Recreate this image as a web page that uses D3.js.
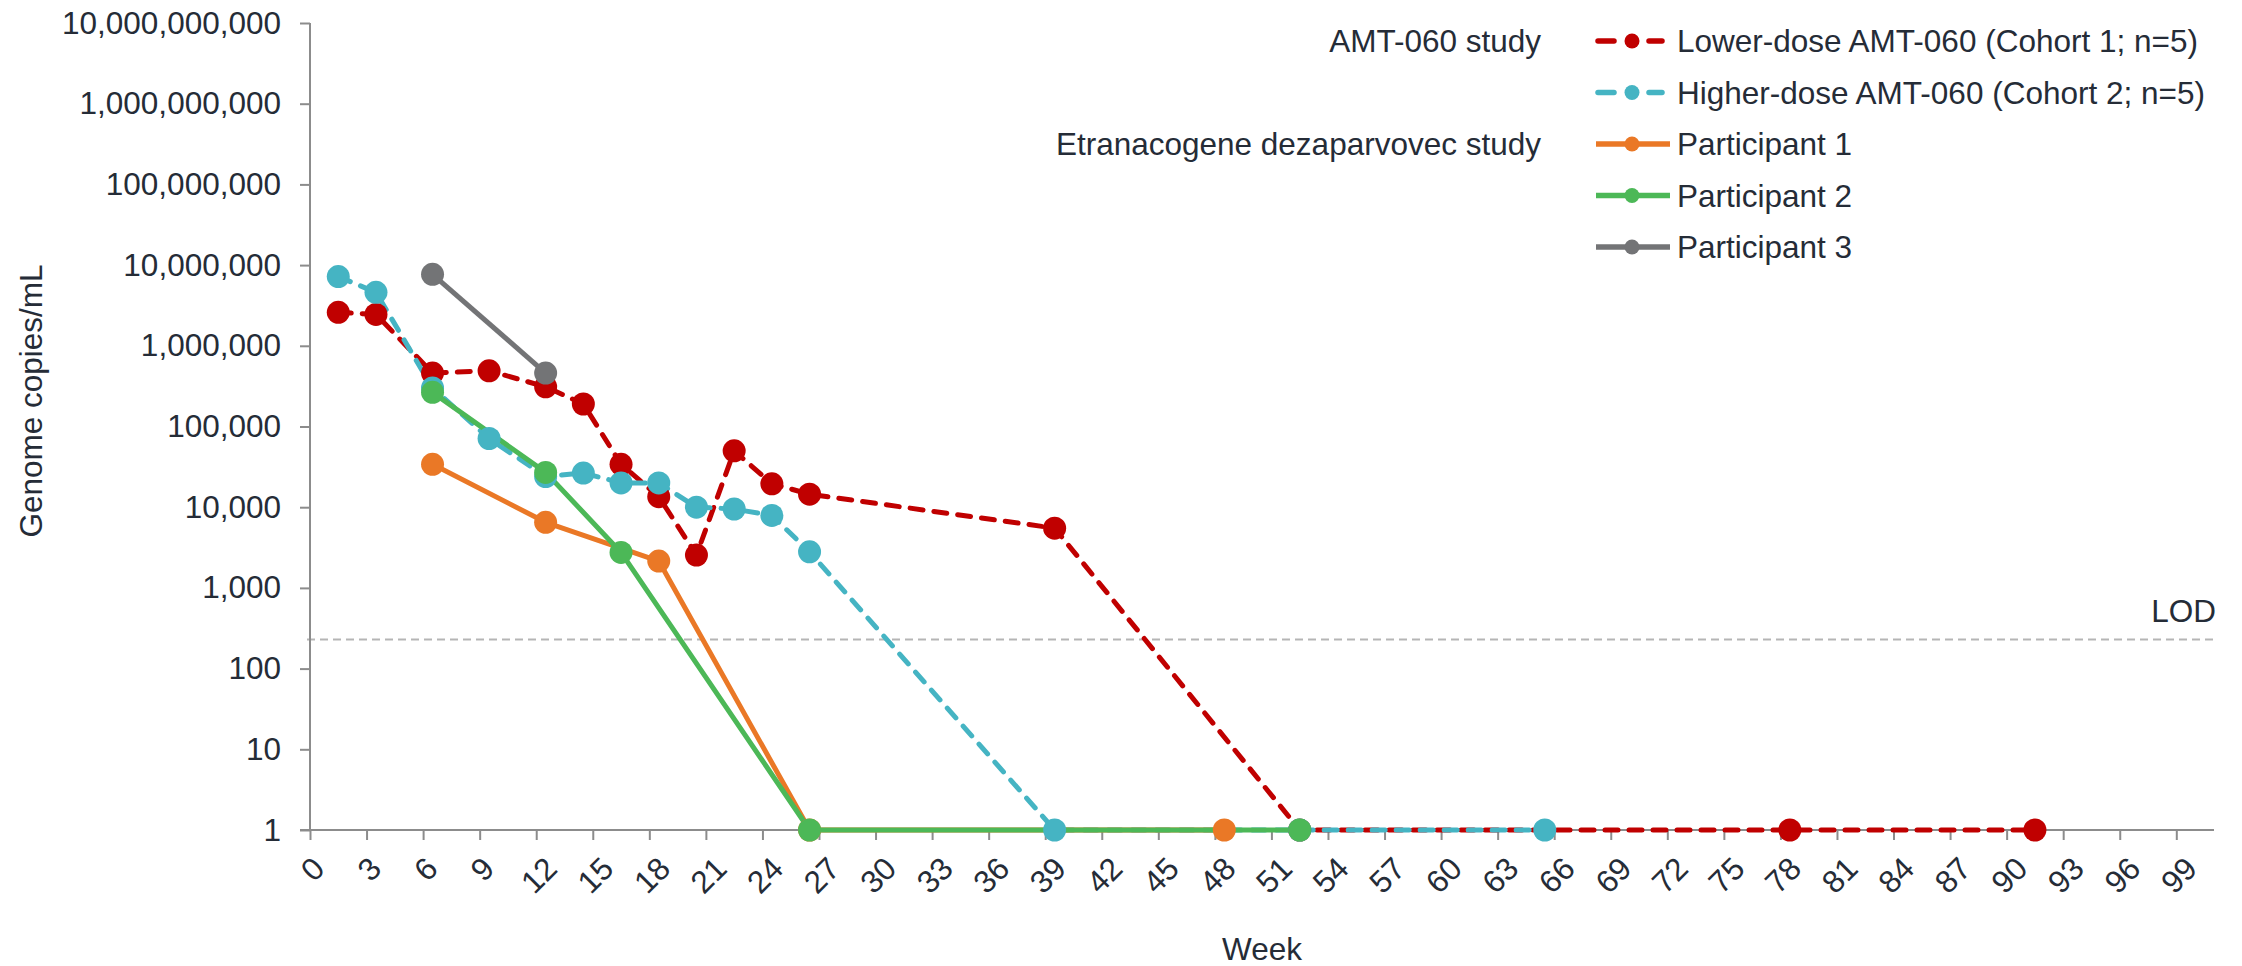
<!DOCTYPE html>
<html><head><meta charset="utf-8">
<script src="https://cdn.jsdelivr.net/npm/d3@7"></script>
<style>
html,body{margin:0;padding:0;background:#fff}
svg{display:block}
text{font-family:"Liberation Sans",Arial,Helvetica,sans-serif;fill:#252c37}
</style>
</head><body>
<svg id="chart" width="2242" height="966"></svg>
<script>
// ---- data ----
const yTickValues = [1, 10, 100, 1e3, 1e4, 1e5, 1e6, 1e7, 1e8, 1e9, 1e10];
const xTickValues = d3.range(0, 100, 3);
const lodValue = 230;

const lowerWeeks  = [1.5, 3.5, 6.5, 9.5, 12.5, 14.5, 16.5, 18.5, 20.5, 22.5, 24.5, 26.5, 39.5, 52.5, 78.5, 91.5];
const lowerValues = [2.6e6, 2.45e6, 4.6e5, 4.9e5, 3.1e5, 1.9e5, 3.4e4, 1.35e4, 2.55e3, 5.0e4, 1.95e4, 1.45e4, 5.5e3, 1, 1, 1];

const higherWeeks  = [1.5, 3.5, 6.5, 9.5, 12.5, 14.5, 16.5, 18.5, 20.5, 22.5, 24.5, 26.5, 39.5, 52.5, 65.5];
const higherValues = [7.2e6, 4.6e6, 3.0e5, 7.1e4, 2.4e4, 2.65e4, 2.0e4, 2.0e4, 1.0e4, 9.5e3, 7.9e3, 2.8e3, 1, 1, 1];

const p1Weeks  = [6.5, 12.5, 18.5, 26.5, 48.5];
const p1Values = [3.4e4, 6.5e3, 2.15e3, 1, 1];

const p2Weeks  = [6.5, 12.5, 16.5, 26.5, 52.5];
const p2Values = [2.65e5, 2.7e4, 2.75e3, 1, 1];

const p3Weeks  = [6.5, 12.5];
const p3Values = [7.7e6, 4.6e5];

const seriesNames = ["Lower-dose AMT-060 (Cohort 1; n=5)", "Higher-dose AMT-060 (Cohort 2; n=5)",
                     "Participant 1", "Participant 2", "Participant 3"];
const groupLabels = ["AMT-060 study", "Etranacogene dezaparvovec study"];

// ---- styles ----
const colors = ["#c00000", "#45b4c3", "#ea7826", "#4cb857", "#737476"];
const dashed = [true, true, false, false, false];
const FONT = 31.5;

const svg = d3.select("#chart");
const x = d3.scaleLinear().domain([0, 101]).range([310, 2214]);
const y = d3.scaleLog().domain([1, 1e10]).range([830, 23]);

const series = [
  d3.zip(lowerWeeks, lowerValues),
  d3.zip(higherWeeks, higherValues),
  d3.zip(p1Weeks, p1Values),
  d3.zip(p2Weeks, p2Values),
  d3.zip(p3Weeks, p3Values)
];

// LOD line
svg.append("line")
  .attr("x1", 307).attr("x2", 2216)
  .attr("y1", y(lodValue)).attr("y2", y(lodValue))
  .attr("stroke", "#b5b5b5").attr("stroke-width", 2).attr("stroke-dasharray", "8,5");
svg.append("text").attr("x", 2216).attr("y", y(lodValue) - 17)
  .attr("text-anchor", "end").attr("font-size", FONT).text("LOD");

// Axes
const axisColor = "#8c8c8c";
const yAxis = svg.append("g").attr("transform", "translate(310,0)")
  .call(d3.axisLeft(y).tickValues(yTickValues).tickFormat(d3.format(",")).tickSize(10).tickPadding(19));
const xAxis = svg.append("g").attr("transform", "translate(0,830)")
  .call(d3.axisBottom(x).tickValues(xTickValues).tickFormat(d => d).tickSize(10).tickSizeOuter(0));
[yAxis, xAxis].forEach(a => {
  a.select(".domain").attr("stroke", axisColor).attr("stroke-width", 2);
  a.selectAll(".tick line").attr("stroke", axisColor).attr("stroke-width", 2);
  a.selectAll("text").attr("font-size", FONT).attr("fill", "#252c37")
   .attr("font-family", '"Liberation Sans",Arial,sans-serif');
});
yAxis.select(".domain").attr("d", "M0,23V830");
xAxis.select(".domain").attr("d", "M300,0H2214");
xAxis.selectAll(".tick text").each(function(d) {
  const t = d3.select(this);
  const w = this.getComputedTextLength();
  const h = 22;
  const half = (w + h) / Math.SQRT2 / 2;
  t.attr("y", null).attr("dy", "0.35em").attr("text-anchor", "middle")
   .attr("transform", `translate(2,${25 + half}) rotate(-45)`);
});

// Axis titles
svg.append("text").attr("transform", "translate(42,401) rotate(-90)")
  .attr("text-anchor", "middle").attr("font-size", FONT).text("Genome copies/mL");
svg.append("text").attr("x", 1262).attr("y", 960)
  .attr("text-anchor", "middle").attr("font-size", FONT).text("Week");

// Lines first, then markers (series order)
const line = d3.line().x(d => x(d[0])).y(d => y(d[1]));
series.forEach((s, i) => {
  svg.append("path").datum(s).attr("d", line)
    .attr("fill", "none").attr("stroke", colors[i]).attr("stroke-width", 5)
    .attr("stroke-linejoin", "round").attr("stroke-linecap", dashed[i] ? "round" : "butt")
    .attr("stroke-dasharray", dashed[i] ? "13,11" : null);
});
series.forEach((s, i) => {
  svg.append("g").selectAll("circle").data(s).join("circle")
    .attr("cx", d => x(d[0])).attr("cy", d => y(d[1])).attr("r", 11.5)
    .attr("fill", colors[i]);
});

// Legend
const legendRowY = [41, 92.5, 144, 195.5, 247];
const lg = svg.append("g");
seriesNames.forEach((name, i) => {
  const ry = legendRowY[i];
  if (dashed[i]) {
    lg.append("line").attr("x1", 1598).attr("x2", 1614).attr("y1", ry).attr("y2", ry)
      .attr("stroke", colors[i]).attr("stroke-width", 5.5).attr("stroke-linecap", "round");
    lg.append("line").attr("x1", 1649).attr("x2", 1662).attr("y1", ry).attr("y2", ry)
      .attr("stroke", colors[i]).attr("stroke-width", 5.5).attr("stroke-linecap", "round");
  } else {
    lg.append("line").attr("x1", 1596).attr("x2", 1670).attr("y1", ry).attr("y2", ry)
      .attr("stroke", colors[i]).attr("stroke-width", 5.5);
  }
  lg.append("circle").attr("cx", 1632).attr("cy", ry).attr("r", 7.5).attr("fill", colors[i]);
  lg.append("text").attr("x", 1677).attr("y", ry).attr("dy", "0.35em")
    .attr("font-size", FONT).text(name);
});
lg.append("text").attr("x", 1541).attr("y", legendRowY[0]).attr("dy", "0.35em")
  .attr("text-anchor", "end").attr("font-size", FONT).text(groupLabels[0]);
lg.append("text").attr("x", 1541).attr("y", legendRowY[2]).attr("dy", "0.35em")
  .attr("text-anchor", "end").attr("font-size", FONT).text(groupLabels[1]);
</script>
</body></html>
